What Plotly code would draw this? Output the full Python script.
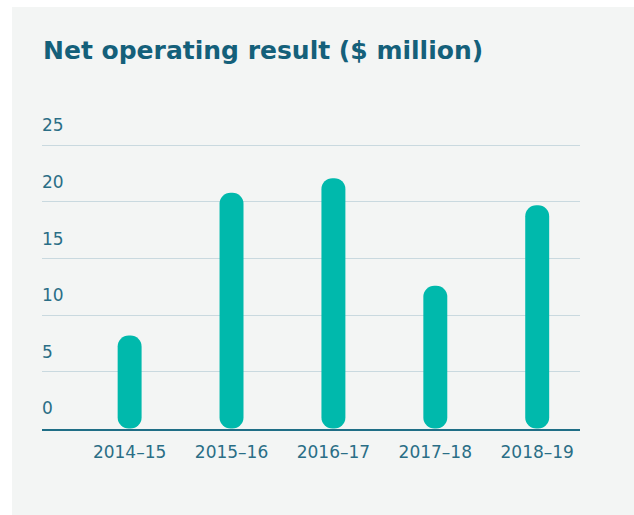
import plotly.graph_objects as go

# data
years = ["2014–15", "2015–16", "2016–17", "2017–18", "2018–19"]
net_result = [8.2, 20.8, 22.1, 12.6, 19.7]
y_ticks = [0, 5, 10, 15, 20, 25]

BAR = "#00B9AC"
TEAL_DARK = "#14607A"
TEAL_TEXT = "#2A6E86"
GRID = "#C9D9DF"
PANEL = "#F3F5F4"
FONT = "DejaVu Sans"

W, H = 634, 515
L, R, T, B = 42, 54, 100, 86
Y_TOP = 29

fig = go.Figure()

# pill shaped bars (explicit base so both ends get rounded)
fig.add_trace(go.Bar(
    x=years,
    y=net_result,
    base=[0] * len(net_result),
    width=0.235,
    marker=dict(color=BAR, cornerradius="50%", line=dict(width=0)),
    hoverinfo="skip",
))

# light panel on a white page
pw = W - L - R
ph = H - T - B
fig.add_shape(
    type="rect", xref="paper", yref="paper", layer="below",
    x0=(12 - L) / pw, x1=(W + 5 - L) / pw,
    y0=-(B + 5) / ph, y1=(H - B - 7) / ph,
    fillcolor=PANEL, line=dict(width=0),
)

fig.update_layout(
    width=W, height=H,
    margin=dict(l=L, r=R, t=T, b=B),
    paper_bgcolor="white",
    plot_bgcolor=PANEL,
    showlegend=False,
    font=dict(family=FONT, color=TEAL_TEXT),
    title=dict(
        text="<b>Net operating result ($ million)</b>",
        font=dict(family=FONT, size=25, color=TEAL_DARK),
        xref="container", x=43 / W, xanchor="left",
        yref="container", y=1 - 50 / H, yanchor="middle",
    ),
)

fig.update_xaxes(
    type="category",
    range=[-0.86, 4.42],
    showgrid=False,
    showline=True, linecolor="#1F6E86", linewidth=2,
    ticks="outside", ticklen=7, tickcolor="rgba(0,0,0,0)",
    tickfont=dict(size=17, color=TEAL_TEXT),
)
fig.update_yaxes(
    range=[-0.05, Y_TOP],
    tickvals=y_ticks,
    showgrid=True, gridcolor=GRID, gridwidth=1,
    zeroline=False,
    ticklabelposition="inside top",
    ticklabelshift=-8,
    ticklabelstandoff=-3,
    tickfont=dict(size=17, color=TEAL_TEXT),
)

fig.write_html(
    "out.html",
    config=dict(displayModeBar=False),
    post_script="document.body.style.margin='0';",
)
